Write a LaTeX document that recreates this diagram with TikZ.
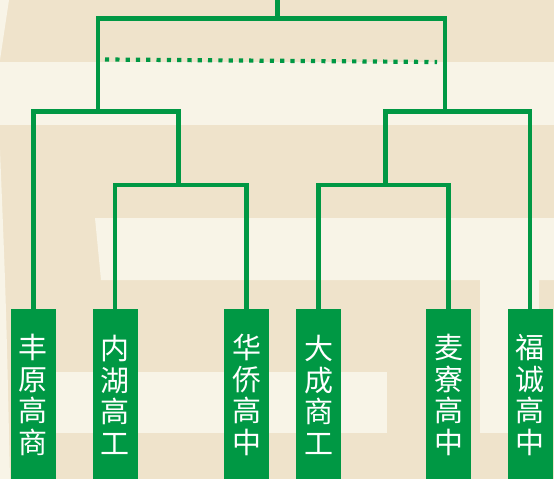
\documentclass[tikz,border=0pt]{standalone}
\usepackage{fontspec}
\newfontfamily\cjk{Noto Sans CJK SC}
\definecolor{bracketGreen}{HTML}{009844}
\definecolor{bgDark}{HTML}{EFE3CB}
\definecolor{bgLight}{HTML}{F8F4E7}
\begin{document}
\begin{tikzpicture}
[x=1pt,y=-1pt,
  lineBracket/.style={-,line width=4.6pt,draw=bracketGreen},%
  lineDotted/.style={-,line width=4.2pt,draw=bracketGreen,dash pattern=on 4.2pt off 6.1pt},
  nodeTeam/.style={shape=rectangle,fill=bracketGreen,text=white,inner sep=0pt,
    minimum width=45pt,minimum height=172pt,align=center,
    font=\cjk\fontsize{29}{31.7}\selectfont}]
\useasboundingbox (0,0) rectangle (554,479);
\clip (0,0) rectangle (554,479);
%% background bands
\fill[bgDark] (0,0) rectangle (554,479);
\fill[bgLight] (0,62) rectangle (554,125);
\fill[bgLight] (0,0) -- (9,0) -- (0,60) -- cycle;
\fill[bgLight] (0,150) .. controls (6,300) .. (10,479) -- (0,479) -- cycle;
\fill[bgLight] (95,218) -- (554,218) -- (554,280) -- (101,280) -- cycle;
\fill[bgLight] (50,372) rectangle (387,433);
\fill[bgLight] (480,280) rectangle (539,433);
%% teams
\foreach \teamname/\x/\teamtext in {
  t1/33.5/{丰\\原\\高\\商}, t2/115/{内\\湖\\高\\工},
  t3/246.5/{华\\侨\\高\\中}, t4/318.5/{大\\成\\商\\工},
  t5/448.5/{麦\\寮\\高\\中}, t6/530/{福\\诚\\高\\中}}
{
  \node (\teamname) at (\x,395) [nodeTeam] {\teamtext};
}
%% junctions
\coordinate (top) at (277.5,0);
\coordinate (root) at (277.5,18.5);
\coordinate (s1) at (98,111.5);
\coordinate (s2) at (445,111.5);
\coordinate (q1) at (178.5,185);
\coordinate (q2) at (385.3,185);
\coordinate (d1) at (105,59.5);
\coordinate (d2) at (437,62);
%% brackets
\draw[lineBracket] (t2.north) |- (q1) -| (t3.north);
\draw[lineBracket] (t4.north) |- (q2) -| (t5.north);
\draw[lineBracket] (t1.north) |- (s1) -| (q1);
\draw[lineBracket] (q2) |- (s2) -| (t6.north);
\draw[lineBracket] (s1) |- (root) -| (s2);
\draw[lineBracket] (root) -- (top);
\draw[lineDotted] (d1) -- (d2);
\end{tikzpicture}
\end{document}
